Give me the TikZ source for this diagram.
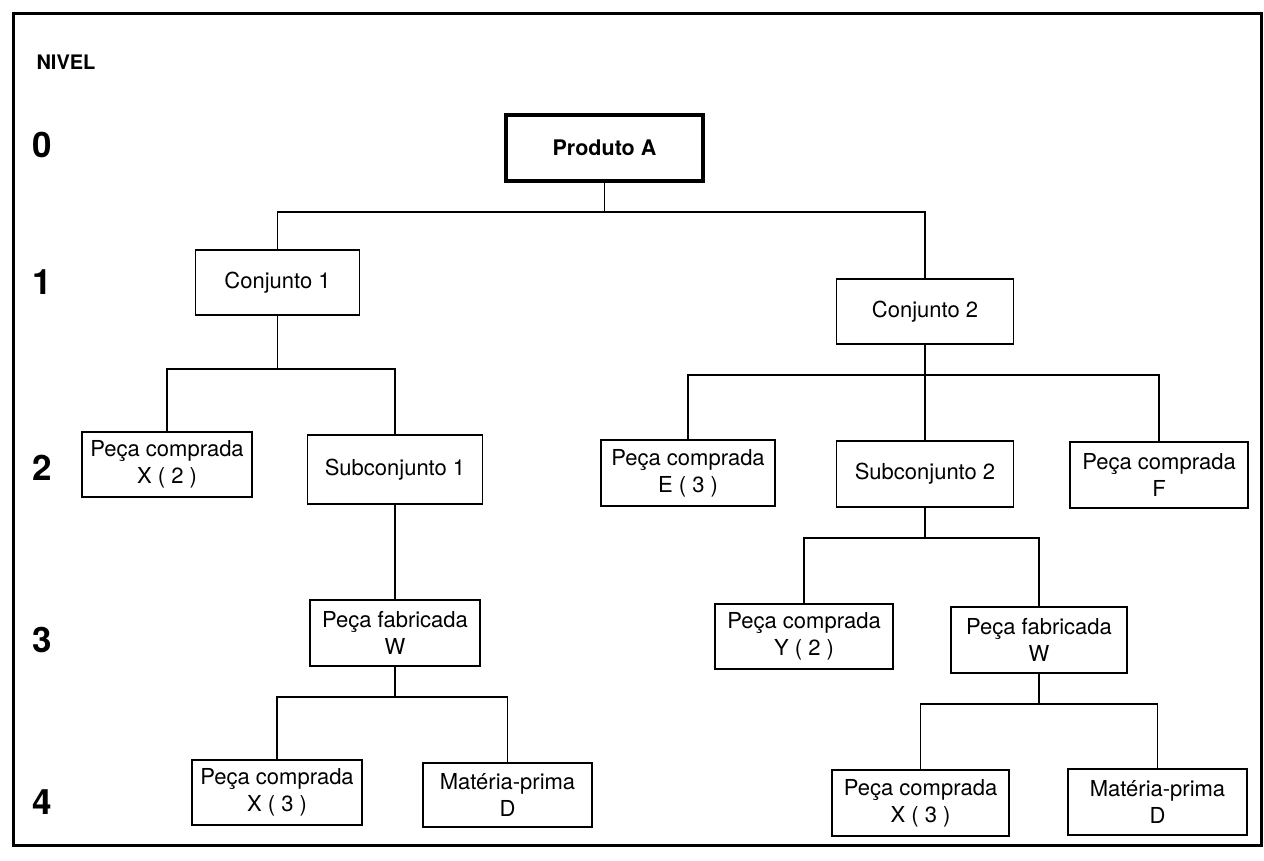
\documentclass[tikz,border=0pt]{standalone}
\usepackage{fontspec}
\setmainfont{TeX Gyre Heros}
\begin{document}
\begin{tikzpicture}[x=1pt,y=-1pt,
  box/.style={draw,line width=1.6pt,align=center,inner sep=0pt,
    font=\fontsize{22}{27}\selectfont},
  mainbox/.style={box,line width=4pt,font=\fontsize{21.5}{27}\selectfont\bfseries},
  link/.style={line width=1.5pt},
  lvl/.style={anchor=west,font=\fontsize{35}{35}\selectfont\bfseries}]
\useasboundingbox (0,0) rectangle (1264,860);
\fill[white] (0,0) rectangle (1264,860);
% outer frame
\draw[line width=3pt] (13,13) rectangle (1261,845);

% level column
\node[anchor=west,font=\fontsize{20}{20}\selectfont\bfseries] (nivel) at (33,62) {NIVEL};
\node[lvl] (l0) at (29,145) {0};
\node[lvl] (l1) at (29,282) {1};
\node[lvl] (l2) at (29,468) {2};
\node[lvl] (l3) at (29,640) {3};
\node[lvl] (l4) at (29,802) {4};

% level 0
\node[mainbox,minimum width=197pt,minimum height=66pt] (prodA) at (604.5,148) {Produto A};
% level 1
\node[box,minimum width=164pt,minimum height=65pt] (conj1) at (277.5,282.5) {Conjunto 1};
\node[box,minimum width=177pt,minimum height=65pt] (conj2) at (925,311.5) {Conjunto 2};
% level 2
\node[box,minimum width=170pt,minimum height=65pt] (px2) at (167,464.5) {Peça comprada\\X ( 2 )};
\node[box,minimum width=175pt,minimum height=69pt] (sub1) at (395,469.5) {Subconjunto 1};
\node[box,minimum width=174pt,minimum height=66pt] (pe3) at (688,473) {Peça comprada\\E ( 3 )};
\node[box,minimum width=177pt,minimum height=66pt] (sub2) at (925,474) {Subconjunto 2};
\node[box,minimum width=178pt,minimum height=66pt] (pf) at (1159,475) {Peça comprada\\F};
% level 3
\node[box,minimum width=170pt,minimum height=66pt] (wL) at (395,633) {Peça fabricada\\W};
\node[box,minimum width=178pt,minimum height=65pt] (py2) at (804,636.5) {Peça comprada\\Y ( 2 )};
\node[box,minimum width=176pt,minimum height=66pt] (wR) at (1039,640) {Peça fabricada\\W};
% level 4
\node[box,minimum width=170pt,minimum height=65pt] (px3L) at (277,792.5) {Peça comprada\\X ( 3 )};
\node[box,minimum width=169pt,minimum height=64pt] (pdL) at (507.5,795) {Matéria-prima\\D};
\node[box,minimum width=177pt,minimum height=66pt] (px3R) at (920.5,803) {Peça comprada\\X ( 3 )};
\node[box,minimum width=179pt,minimum height=66pt] (pdR) at (1157.5,802) {Matéria-prima\\D};

% tree connectors: parent down to a bus, then down to each child
\coordinate (b0) at (604.5,212);
\draw[link] (prodA.south) -- (b0);
\draw[link] (conj1.north) |- (b0) -| (conj2.north);

\coordinate (b1) at (277.5,369);
\draw[link] (conj1.south) -- (b1);
\draw[link] (px2.north) |- (b1) -| (sub1.north);

\coordinate (b2) at (925,375);
\draw[link] (conj2.south) -- (sub2.north);
\draw[link] (pe3.north) |- (b2) -| (pf.north);

\draw[link] (sub1.south) -- (wL.north);

\coordinate (b3) at (925,538);
\draw[link] (sub2.south) -- (b3);
\draw[link] (py2.north) |- (b3) -| (wR.north);

\coordinate (b4) at (395,697);
\draw[link] (wL.south) -- (b4);
\draw[link] (px3L.north) |- (b4) -| (pdL.north);

\coordinate (b5) at (1039,704);
\draw[link] (wR.south) -- (b5);
\draw[link] (px3R.north) |- (b5) -| (pdR.north);
\end{tikzpicture}
\end{document}
